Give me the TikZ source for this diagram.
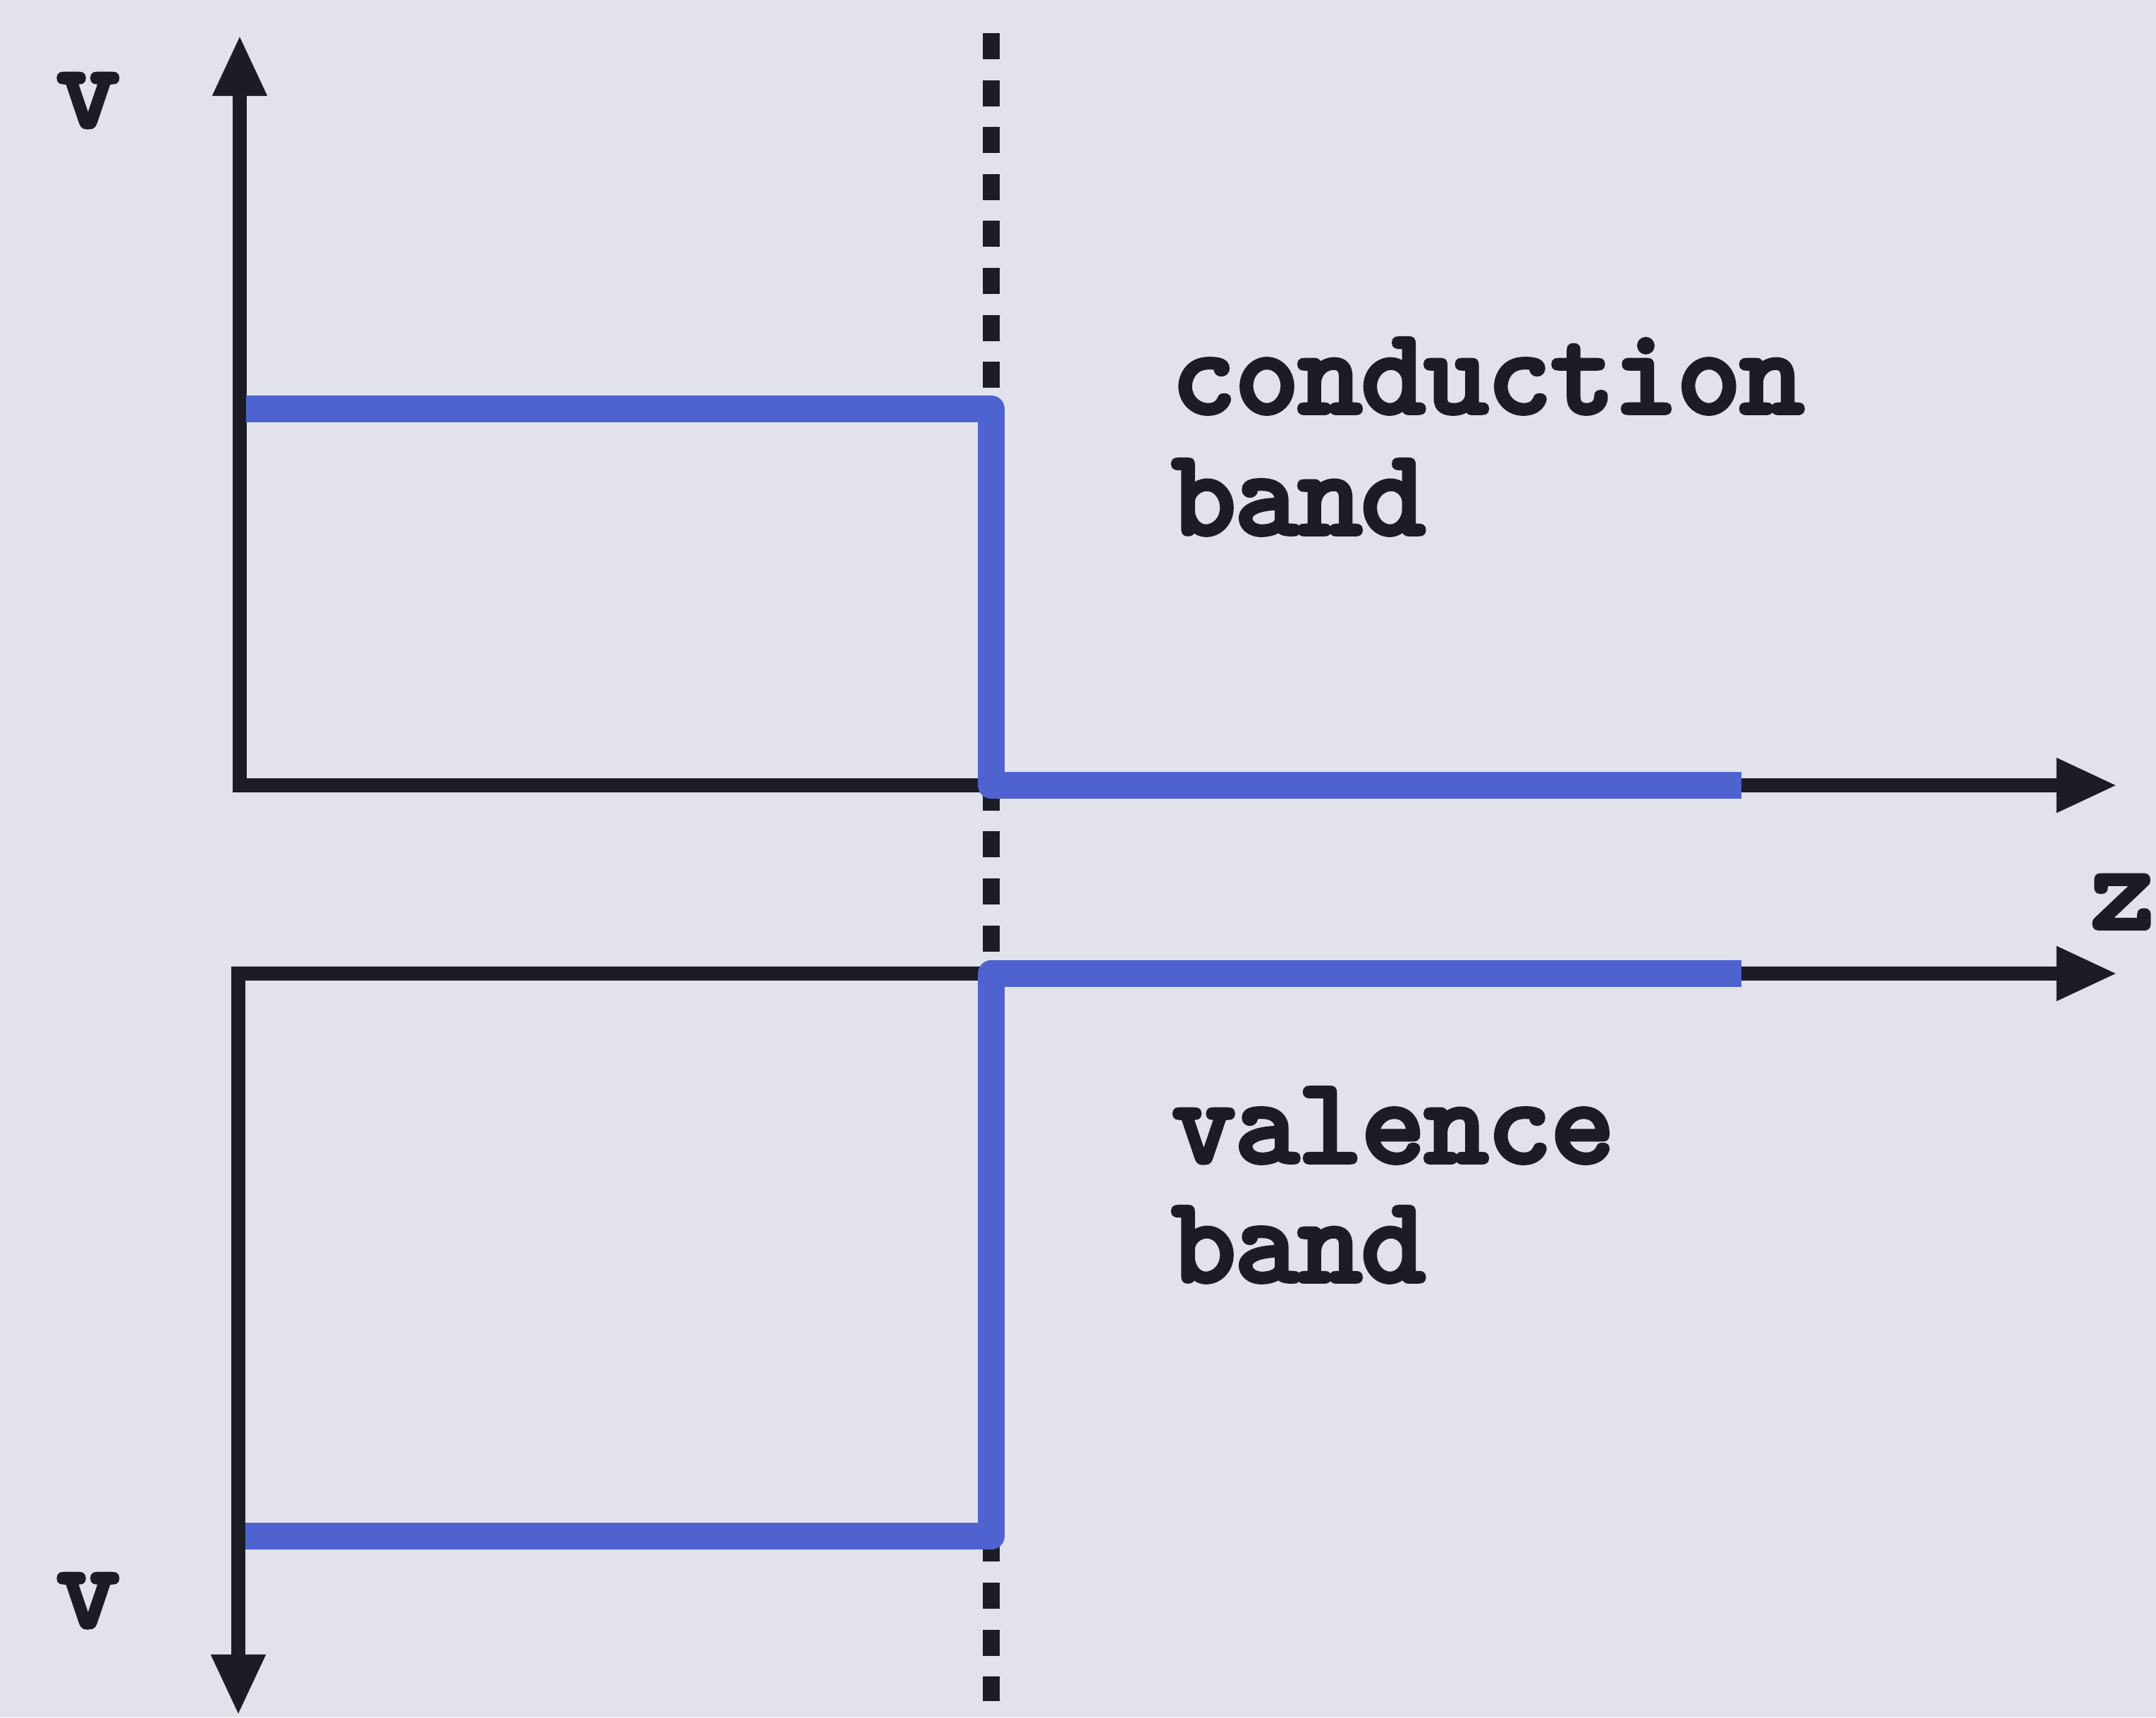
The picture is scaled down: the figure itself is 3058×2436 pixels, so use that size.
\documentclass[tikz,border=0pt]{standalone}
\usepackage{fontspec}
\newfontfamily\lblfont{lmmono10-regular.otf}[FakeBold=4.5]
\usetikzlibrary{arrows.meta}
\definecolor{paper}{RGB}{226,226,236}
\definecolor{bandblue}{RGB}{78,98,208}
\definecolor{ink}{RGB}{28,28,36}
\begin{document}
\begin{tikzpicture}[x=0.01cm,y=-0.01cm,
  tip/.tip={Triangle[length=24.5pt,width=20.5pt]},
  axis/.style={draw=ink,line width=5.7pt,line join=miter},
  interface/.style={draw=ink,line width=6.8pt,dash pattern=on 10.53pt off 8.41pt},
  edge/.style={draw=bandblue,line width=10.8pt,line join=round},
  lbl/.style={inner sep=0pt,text=ink,font=\lblfont\fontsize{48.5}{54}\selectfont}]
% page
\fill[paper] (0,0) rectangle (3058,2436);
\useasboundingbox (0,0) rectangle (3058,2436);

% axis end points
\coordinate (o1) at (340,1114);
\coordinate (ytop) at (340,50);
\coordinate (xtop) at (3003,1114);
\coordinate (o2) at (338,1381);
\coordinate (ybot) at (338,2433);
\coordinate (xbot) at (3003,1381);

% interface between the two materials
\coordinate (ifTop) at (1406,47);
\coordinate (ifBot) at (1406,2413);
\draw[interface] (ifTop) -- (ifBot);

% axes
\draw[axis,tip-tip] (ytop) -- (o1) -- (xtop);
\draw[axis,tip-tip] (ybot) -- (o2) -- (xbot);

% band edges
\coordinate (c1) at (349,580);
\coordinate (c2) at (1406,580);
\coordinate (c3) at (1406,1114);
\coordinate (c4) at (2470,1114);
\draw[edge] (c1) -- (c2) -- (c3) -- (c4);
\coordinate (v1) at (2470,1381);
\coordinate (v2) at (1406,1381);
\coordinate (v3) at (1406,2179);
\coordinate (v4) at (348,2179);
\draw[edge] (v1) -- (v2) -- (v3) -- (v4);

% labels
\node[lbl,anchor=base] (vup) at (125,179) {v};
\node[lbl,anchor=base] (vdown) at (125,2307) {v};
\node[lbl,anchor=base east] (zlab) at (3056,1316) {z};
\node[lbl,anchor=base west] (cb1) at (1662,585) {conduction};
\node[lbl,anchor=base west] (cb2) at (1662,757) {band};
\node[lbl,anchor=base west] (vb1) at (1662,1648) {valence};
\node[lbl,anchor=base west] (vb2) at (1662,1817) {band};
\end{tikzpicture}
\end{document}
